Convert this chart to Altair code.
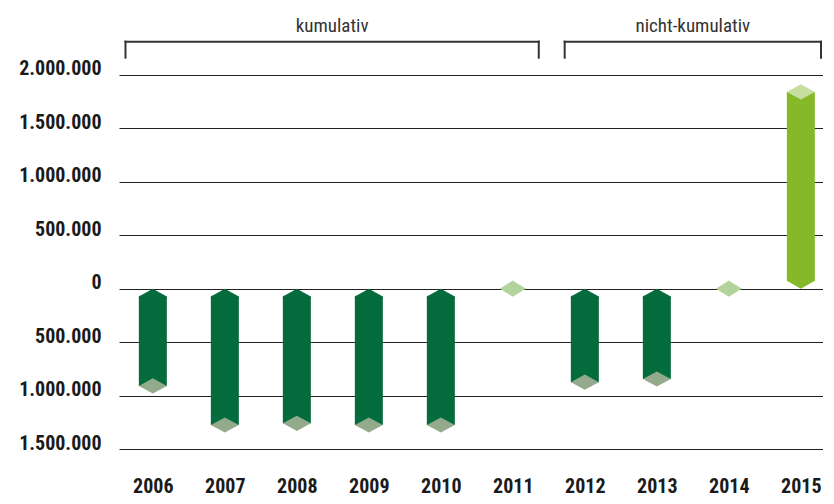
import altair as alt
import pandas as pd

# ---- data ----
years = [2006, 2007, 2008, 2009, 2010, 2011, 2012, 2013, 2014, 2015]
values = [-910000, -1275000, -1260000, -1275000, -1275000, 0, -875000, -845000, 0, 1840000]

y_ticks = [-1500000, -1000000, -500000, 0, 500000, 1000000, 1500000, 2000000]

group_labels = ["kumulativ", "nicht-kumulativ"]
group_start = [2005.62, 2011.72]
group_end = [2011.36, 2015.28]
bracket_top = [2310000, 2310000]
bracket_foot = [2160000, 2160000]
label_level = [2460000, 2460000]

# ---- styles ----
FONT = "Roboto Condensed, DejaVu Sans Condensed, sans-serif"
DARK = "#046c3c"
DARK_CAP = "#93ab8c"
LIGHT = "#86b929"
LIGHT_CAP = "#c8dea0"
ZERO_CAP = "#b2d49c"

CHEV_UP = "M0,0L1,0.57L1,0.68L-1,0.68L-1,0.57Z"
CHEV_DOWN = "M0,0L1,-0.57L1,-0.68L-1,-0.68L-1,-0.57Z"
DIAMOND = "M-1,0L0,-0.54L1,0L0,0.54Z"
DIAMOND_ZERO = "M-1,0L0,-0.62L1,0L0,0.62Z"

df = pd.DataFrame({"year": years, "value": values})
groups = pd.DataFrame({
    "label": group_labels,
    "start": group_start,
    "end": group_end,
    "top": bracket_top,
    "foot": bracket_foot,
    "text_y": label_level,
})
groups["mid"] = (groups["start"] + groups["end"]) / 2

PLOT_W = 704
x_lo = 2005.53
xs = alt.Scale(domain=[x_lo, x_lo + PLOT_W / 72.0], nice=False, zero=False, padding=0)
ys = alt.Scale(domain=[-1500000, 2550000], nice=False, zero=False, padding=0)

x_axis = alt.Axis(
    values=years, format="d", labelFont=FONT, labelFontSize=20, labelFontWeight="bold",
    labelColor="#1a1a1a", domain=False, ticks=False, tickSize=0, grid=False,
    labelPadding=27, title=None, labelFlush=False, labelOverlap=False,
)
y_axis = alt.Axis(
    values=y_ticks,
    labelExpr="replace(replace(format(abs(datum.value), ',d'), ',', '.'), ',', '.')",
    labelFont=FONT, labelFontSize=20, labelFontWeight="bold", labelColor="#1a1a1a",
    labelBaseline="alphabetic", labelPadding=18, grid=True, gridColor="#222222",
    gridWidth=1.2, domain=False, ticks=False, tickSize=0, title=None,
)

def X(field):
    return alt.X(field, scale=xs, axis=x_axis)

def Y(field):
    return alt.Y(field, scale=ys, axis=y_axis)

Y0 = alt.YDatum(0, scale=ys, axis=y_axis)

base = alt.Chart(df)
neg = base.transform_filter("datum.value < 0")
pos = base.transform_filter("datum.value > 0")
zer = base.transform_filter("datum.value == 0")

bars_neg = neg.mark_bar(size=28, color=DARK, y2Offset=8).encode(
    x=X("year:Q"), y=Y("value:Q"), y2=alt.datum(0))
chev_neg = neg.mark_point(shape=CHEV_UP, size=784, filled=True, opacity=1, color=DARK,
                          strokeWidth=0).encode(x=X("year:Q"), y=Y0)
cap_neg = neg.mark_point(shape=DIAMOND, size=784, filled=True, opacity=1, color=DARK_CAP,
                         strokeWidth=0).encode(x=X("year:Q"), y=Y("value:Q"))

bars_pos = pos.mark_bar(size=28, color=LIGHT, y2Offset=-8).encode(
    x=X("year:Q"), y=Y("value:Q"), y2=alt.datum(0))
chev_pos = pos.mark_point(shape=CHEV_DOWN, size=784, filled=True, opacity=1, color=LIGHT,
                          strokeWidth=0).encode(x=X("year:Q"), y=Y0)
cap_pos = pos.mark_point(shape=DIAMOND, size=784, filled=True, opacity=1, color=LIGHT_CAP,
                         strokeWidth=0).encode(x=X("year:Q"), y=Y("value:Q"))

cap_zero = zer.mark_point(shape=DIAMOND_ZERO, size=676, filled=True, opacity=1, color=ZERO_CAP,
                          strokeWidth=0).encode(x=X("year:Q"), y=Y("value:Q"))

g = alt.Chart(groups)
hline = g.mark_rule(color="#333333", strokeWidth=2, strokeCap="square").encode(
    x=X("start:Q"), x2="end:Q", y=Y("top:Q"))
lt = g.mark_rule(color="#333333", strokeWidth=2, strokeCap="square").encode(
    x=X("start:Q"), y=Y("top:Q"), y2="foot:Q")
rt = g.mark_rule(color="#333333", strokeWidth=2, strokeCap="square").encode(
    x=X("end:Q"), y=Y("top:Q"), y2="foot:Q")
txt = g.mark_text(font=FONT, fontSize=19, color="#333333", baseline="middle", align="center").encode(
    x=X("mid:Q"), y=Y("text_y:Q"), text="label:N")

chart = alt.layer(
    bars_neg, chev_neg, cap_neg, bars_pos, chev_pos, cap_pos, cap_zero, hline, lt, rt, txt
).properties(
    width=PLOT_W, height=433,
    padding={"left": 10, "top": 8, "right": 0, "bottom": 0},
    background="white",
).configure_view(strokeWidth=0)

chart.save("out.html", embed_options={"renderer": "svg", "actions": False})
